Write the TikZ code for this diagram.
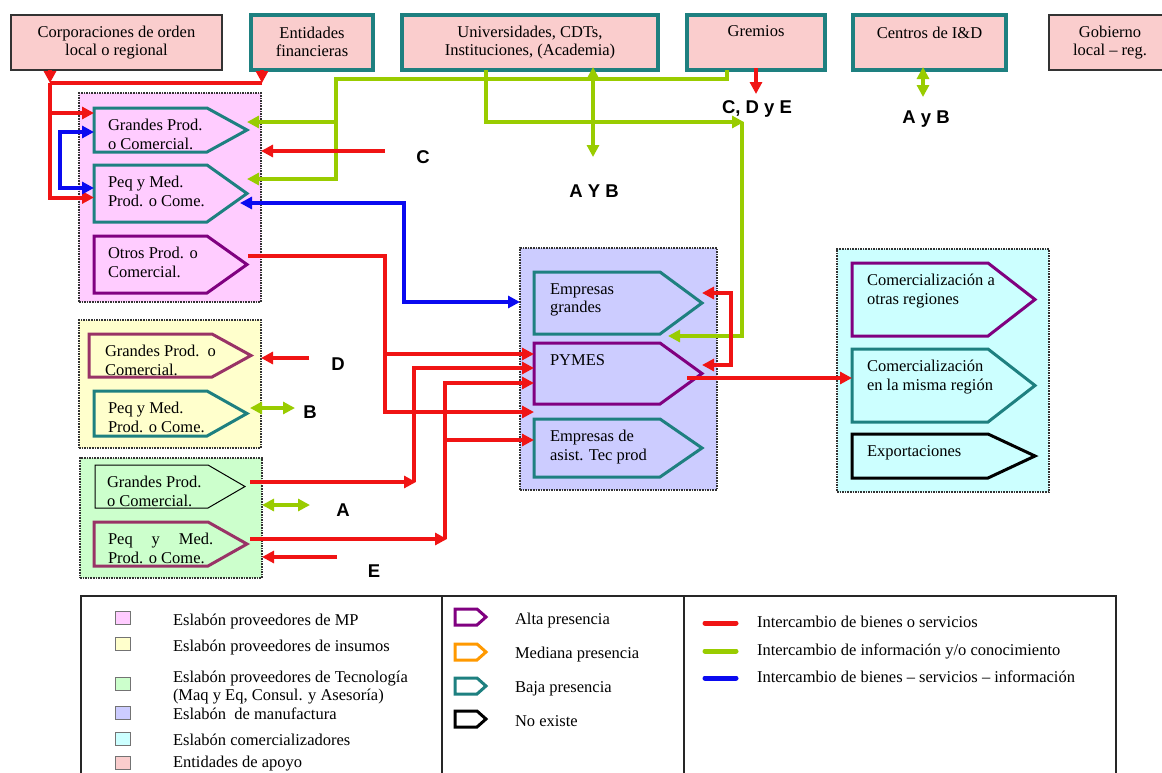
\documentclass[tikz,border=0pt]{standalone}
\usepackage{fontspec}
\setmainfont{Liberation Serif}
\newfontfamily\labelfont{Liberation Sans}
\usetikzlibrary{arrows.meta}

\definecolor{supportfill}{RGB}{250,205,205}
\definecolor{mpfill}{RGB}{255,204,255}
\definecolor{insfill}{RGB}{255,255,204}
\definecolor{tecfill}{RGB}{204,255,204}
\definecolor{manfill}{RGB}{204,204,255}
\definecolor{comfill}{RGB}{204,255,255}
\definecolor{tealb}{RGB}{30,128,128}
\definecolor{purpleb}{RGB}{128,0,128}
\definecolor{mauveb}{RGB}{153,51,102}
\definecolor{orangeb}{RGB}{255,153,0}
\definecolor{goodsred}{RGB}{240,20,20}
\definecolor{infogreen}{RGB}{153,204,0}
\definecolor{mixblue}{RGB}{10,10,240}

\tikzset{
  txt/.style={font=\fontsize{16.5}{18.5}\selectfont, inner sep=0pt, outer sep=0pt},
  boxtxt/.style={txt, align=left, anchor=north west},
  toptxt/.style={txt, align=center, anchor=north},
  legtxt/.style={txt, anchor=base west},
  letterlbl/.style={font=\labelfont\bfseries\fontsize{18.5}{20}\selectfont, inner sep=0pt, anchor=base},
  supthick/.style={draw=tealb, line width=3.5pt, fill=supportfill},
  supthin/.style={draw=black!80, line width=1.6pt, fill=supportfill},
  linkbox/.style={draw=black!80, densely dotted, line width=1.6pt},
  altaline/.style={draw=purpleb, line width=3pt},
  bajaline/.style={draw=tealb, line width=3pt},
  mauveline/.style={draw=mauveb, line width=3pt},
  medline/.style={draw=orangeb, line width=3pt},
  noexline/.style={draw=black, line width=3pt},
  hairline/.style={draw=black, line width=1pt},
  goodsln/.style={draw=goodsred, line width=4pt},
  infoln/.style={draw=infogreen, line width=4pt},
  mixln/.style={draw=mixblue, line width=4pt},
  toarrow/.style={-{Triangle[length=12pt,width=12pt]}},
  twoarrows/.style={{Triangle[length=12pt,width=12pt]}-{Triangle[length=12pt,width=12pt]}},
  legendframe/.style={draw=black!85, line width=1.5pt},
  swatch/.style={draw=black!55, line width=0.8pt, minimum width=15pt, minimum height=13pt, inner sep=0pt},
}

% rectangular node from its corners: name, style, left, top, right, bottom
\newcommand{\cornerbox}[6]{%
  \pgfmathsetmacro\boxw{#5-#3}\pgfmathsetmacro\boxh{#6-#4}%
  \node[#2, minimum width=\boxw pt, minimum height=\boxh pt, inner sep=0pt, outer sep=0pt]
    (#1) at ({(#3+#5)/2},{(#4+#6)/2}) {};}

% arrow-shaped box: name, outline, left, top, tip, bottom, depth of point, text indent, text
\newcommand{\arrowbox}[9]{%
  \pgfmathsetmacro\boxw{#5-#3}\pgfmathsetmacro\boxh{#6-#4}%
  \node[minimum width=\boxw pt, minimum height=\boxh pt, inner sep=0pt, outer sep=0pt]
    (#1) at ({(#3+#5)/2},{(#4+#6)/2}) {};
  \draw[#2, line join=miter] (#1.north west) -- ([xshift=-#7pt]#1.north east) -- (#1.east)
    -- ([xshift=-#7pt]#1.south east) -- (#1.south west) -- cycle;
  \node[boxtxt] (#1-t) at ([xshift=#8pt,yshift=-11.5pt]#1.north west) {#9};}

\begin{document}
\begin{tikzpicture}[x=1pt, y=-1pt]
\fill[white] (0,0) rectangle (1162,772);
\useasboundingbox (0,0) rectangle (1162,772);

% ---------- supporting entities ----------
\cornerbox{corp}{supthin}{11}{15}{222}{70}
\cornerbox{fin}{supthick}{251}{15}{373}{70}
\cornerbox{uni}{supthick}{402}{15}{658}{70}
\cornerbox{grem}{supthick}{687}{15}{825}{70}
\cornerbox{cid}{supthick}{853}{15}{1006}{70}
\cornerbox{gob}{supthin}{1049}{15}{1171}{70}
\node[toptxt] (corp-t) at ([yshift=-11pt]corp.north) {Corporaciones de orden\\local o regional};
\node[toptxt] (fin-t) at ([yshift=-12pt]fin.north) {Entidades\\financieras};
\node[toptxt] (uni-t) at ([yshift=-11pt]uni.north) {Universidades, CDTs,\\Instituciones, (Academia)};
\node[toptxt] (grem-t) at ([yshift=-11pt]grem.north) {Gremios};
\node[toptxt] (cid-t) at ([yshift=-12pt]cid.north) {Centros de I\&D};
\node[toptxt] (gob-t) at ([yshift=-11pt]gob.north) {Gobierno\\local – reg.};

% ---------- chain links ----------
\cornerbox{mp}{linkbox, fill=mpfill}{79}{93}{261}{302}
\cornerbox{ins}{linkbox, fill=insfill}{79}{320}{261}{448}
\cornerbox{tec}{linkbox, fill=tecfill}{80}{458}{262}{578}
\cornerbox{man}{linkbox, fill=manfill}{520}{248}{717}{490}
\cornerbox{com}{linkbox, fill=comfill}{837}{249}{1049}{492}

% raw material suppliers
\arrowbox{mpG}{bajaline}{94}{108}{247}{152}{40}{14}{Grandes Prod.\\o Comercial.}
\arrowbox{mpP}{bajaline}{94}{165}{247}{222}{40}{14}{Peq y Med.\\Prod. o Come.}
\arrowbox{mpO}{altaline}{94}{236}{247}{293}{40}{14}{Otros Prod. o\\Comercial.}
% input suppliers
\arrowbox{inG}{mauveline}{89}{334}{251}{377}{39}{16}{Grandes Prod.\ \ o\\Comercial.}
\arrowbox{inP}{bajaline}{94}{391}{247}{436}{40}{14}{Peq y Med.\\Prod. o Come.}
% technology suppliers
\arrowbox{tcG}{hairline}{95}{465}{245}{508}{37}{12}{Grandes Prod.\\o Comercial.}
\arrowbox{tcP}{mauveline}{94}{522}{247}{566}{39}{14}{Peq\hspace{1.15em}y\hspace{1.15em}Med.\\Prod. o Come.}
% manufacturing
\arrowbox{mnG}{bajaline}{534}{272}{702}{334}{42}{16}{Empresas\\grandes}
\arrowbox{mnP}{altaline}{534}{343}{702}{404}{42}{16}{PYMES}
\arrowbox{mnA}{bajaline}{534}{419}{702}{477}{42}{16}{Empresas de\\asist. Tec prod}
% distribution
\arrowbox{cmO}{altaline}{852}{263}{1035}{336}{47}{15}{Comercialización a\\otras regiones}
\arrowbox{cmM}{bajaline}{852}{349}{1035}{422}{47}{15}{Comercialización\\en la misma región}
\arrowbox{cmE}{noexline}{852}{434}{1035}{478}{47}{15}{Exportaciones}

% ---------- flows ----------
% support entities into raw material suppliers
\coordinate (busL) at (50,83);
\coordinate (busR) at (262,83);
\draw[goodsln, toarrow] (corp.south -| busL) -- (busL);
\draw[goodsln, toarrow] (fin.south -| busR) -- (busR);
\draw[goodsln] (busL) -- (busR);
\draw[goodsln, toarrow] (busL) |- ([yshift=-4pt]mpP.west);
\draw[goodsln, toarrow] (busL |- 0,113) -- (mpG.west |- 0,113);
\draw[mixln, twoarrows] ([yshift=-24pt]mpG.north west) -- ++(-34,0) |- ([yshift=-23pt]mpP.north west);

% guild knowledge
\draw[infoln, toarrow] ([xshift=-29pt]grem.south) |- (336,79) |- (mpP.east |- 0,179);
\draw[infoln, toarrow] (336,122) -- (mpG.east |- 0,122);
\draw[goodsln, toarrow] ([yshift=2pt]grem.south) -- ++(0,26);
\node[letterlbl] (lblCDE) at (757,113) {C, D y E};

% academia
\draw[infoln, toarrow] ([xshift=-44pt]uni.south) |- (744,122);
\draw[infoln, toarrow] (742,122) |- ([xshift=-34pt,yshift=-2pt]mnG.south east);
\draw[infoln, twoarrows] ([xshift=63pt,yshift=3pt]uni.south) -- ++(0,90);
\node[letterlbl] (lblAYB) at (594,197) {A Y B};

% research centres
\draw[infoln, twoarrows] ([xshift=-6.5pt,yshift=3pt]cid.south) -- ++(0,30);
\node[letterlbl] (lblAyB) at (926,123) {A y B};

% raw material suppliers with manufacturing
\draw[goodsln, toarrow] (385,151) -- (mp.east |- 0,151);
\node[letterlbl] (lblC) at (423,163) {C};
\draw[mixln, twoarrows] ([xshift=-7pt,yshift=-9.5pt]mpP.east) -| (404,302) -- (man.west |- 0,302);
\draw[goodsln, toarrow] ([xshift=1pt,yshift=9pt]mpO.east) -| (385,412) -- (mnP.west |- 0,412);
\draw[goodsln, toarrow] (385,354) -- (mnP.west |- 0,354);

% input suppliers
\draw[goodsln, toarrow] (309,358) -- (ins.east |- 0,358);
\node[letterlbl] (lblD) at (338,370) {D};
\draw[infoln, twoarrows] ([xshift=3pt,yshift=5.5pt]inP.east) -- ++(45,0);
\node[letterlbl] (lblB) at (310,418) {B};

% technology suppliers
\draw[goodsln, toarrow] ([xshift=5pt,yshift=4.5pt]tcG.east) -- (416,482);
\draw[goodsln, toarrow] (414,482) |- (mnP.west |- 0,368);
\draw[infoln, twoarrows] (tec.east |- 0,505) -- (310,505);
\node[letterlbl] (lblA) at (343,516) {A};
\draw[goodsln, toarrow] ([xshift=3pt,yshift=5pt]tcP.east) -- (447,539);
\draw[goodsln, toarrow] (445,539) |- (mnP.west |- 0,383);
\draw[goodsln, toarrow] (445,440) -- (mnA.west |- 0,440);
\draw[goodsln, toarrow] (337,557) -- (tec.east |- 0,557);
\node[letterlbl] (lblE) at (374,577) {E};

% within manufacturing and towards distribution
\draw[goodsln, twoarrows] (mnG.east |- 0,293) -| (731,365) -- (mnP.east |- 0,365);
\draw[goodsln, toarrow] ([xshift=-15pt,yshift=-4.5pt]mnP.east) -- (cmM.west |- 0,378);

% ---------- legend ----------
\cornerbox{legA}{legendframe}{81}{596}{442}{800}
\cornerbox{legB}{legendframe}{442}{596}{684}{800}
\cornerbox{legC}{legendframe}{684}{596}{1116}{800}

\node[swatch, fill=mpfill] (swMP) at (123,618) {};
\node[swatch, fill=insfill] (swIN) at (123,644) {};
\node[swatch, fill=tecfill] (swTC) at (123,684) {};
\node[swatch, fill=manfill] (swMN) at (123,713) {};
\node[swatch, fill=comfill] (swCM) at (123,739) {};
\node[swatch, fill=supportfill] (swSP) at (123,763) {};
\node[legtxt] (tMP) at (173,625) {Eslabón proveedores de MP};
\node[legtxt] (tIN) at (173,651) {Eslabón proveedores de insumos};
\node[legtxt] (tTC) at (173,682) {Eslabón proveedores de Tecnología};
\node[legtxt] (tTC2) at (173,700) {(Maq y Eq, Consul. y Asesoría)};
\node[legtxt] (tMN) at (173,719) {Eslabón\ \ de manufactura};
\node[legtxt] (tCM) at (173,745) {Eslabón comercializadores};
\node[legtxt] (tSP) at (173,767) {Entidades de apoyo};

\arrowbox{lgAlta}{altaline}{455}{609}{486}{625}{9}{0}{}
\arrowbox{lgMed}{medline}{455}{644}{486}{660}{9}{0}{}
\arrowbox{lgBaja}{bajaline}{455}{678}{486}{694}{9}{0}{}
\arrowbox{lgNo}{noexline}{455}{711}{486}{727}{9}{0}{}
\node[legtxt] (tAlta) at (515,624) {Alta presencia};
\node[legtxt] (tMed) at (515,658) {Mediana presencia};
\node[legtxt] (tBaja) at (515,692) {Baja presencia};
\node[legtxt] (tNo) at (515,726) {No existe};

\draw[goodsln, line width=5pt, line cap=round] (705,623) -- (736,623);
\draw[infoln, line width=5pt, line cap=round] (705,651) -- (736,651);
\draw[mixln, line width=5pt, line cap=round] (705,678) -- (736,678);
\node[legtxt] (tGoods) at (757,627) {Intercambio de bienes o servicios};
\node[legtxt] (tInfo) at (757,655) {Intercambio de información y/o conocimiento};
\node[legtxt] (tMix) at (757,682) {Intercambio de bienes – servicios – información};
\end{tikzpicture}
\end{document}
